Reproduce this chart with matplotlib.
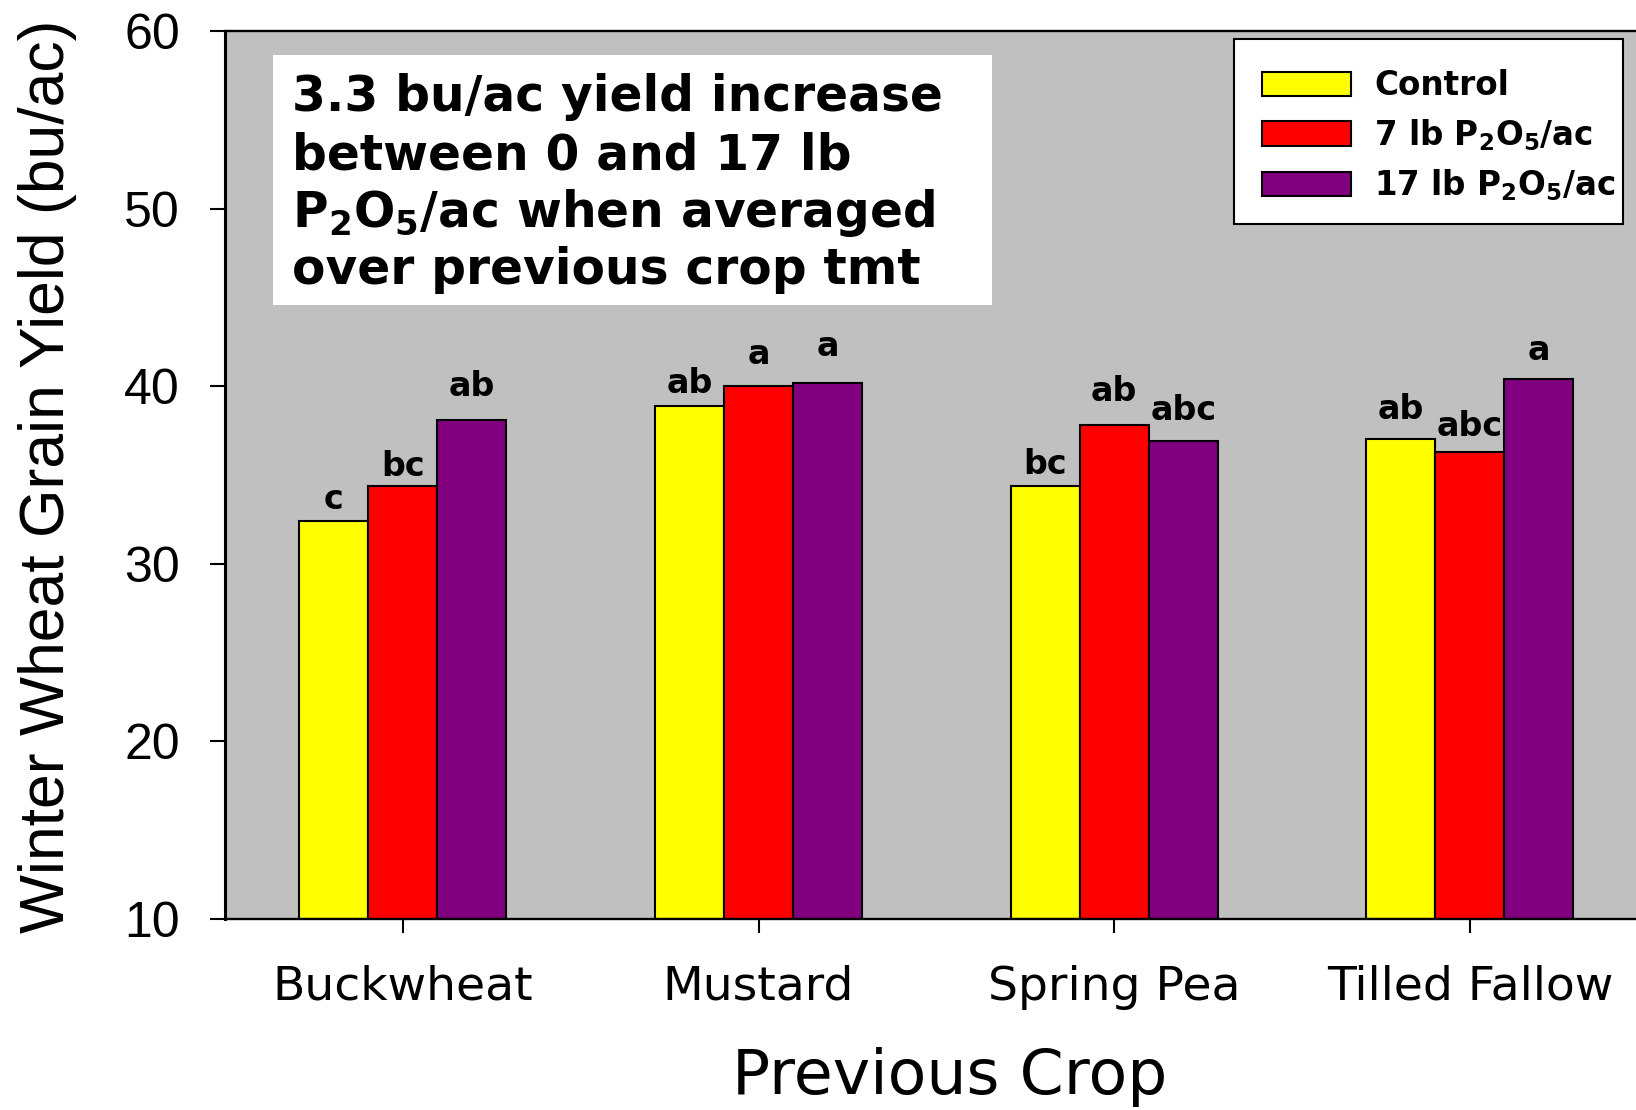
import numpy as np
import matplotlib
matplotlib.use('Agg')
import matplotlib.pyplot as plt
from matplotlib.patches import Rectangle

plt.rcParams['font.family'] = ['DejaVu Sans']
plt.rcParams['mathtext.fontset'] = 'dejavusans'

# data
crops = ['Buckwheat', 'Mustard', 'Spring Pea', 'Tilled Fallow']
control = [32.4, 38.9, 34.4, 37.0]
p7 = [34.4, 40.0, 37.8, 36.3]
p17 = [38.1, 40.2, 36.9, 40.4]

# mean separation letters and their height above the bar (bu/ac)
let_control = ['c', 'ab', 'bc', 'ab']
let_p7 = ['bc', 'a', 'ab', 'abc']
let_p17 = ['ab', 'a', 'abc', 'a']
off_control = [0.66, 0.73, 0.68, 1.13]
off_p7 = [0.56, 1.24, 1.35, 0.90]
off_p17 = [1.35, 1.52, 1.18, 1.05]

labels = ['Control', r'7 lb P$_\mathbf{2}$O$_\mathbf{5}$/ac',
          r'17 lb P$_\mathbf{2}$O$_\mathbf{5}$/ac']
colors = ['#ffff00', '#ff0000', '#800080']

note = ['3.3 bu/ac yield increase',
        'between 0 and 17 lb',
        r'P$_\mathbf{2}$O$_\mathbf{5}$/ac when averaged',
        'over previous crop tmt']

W, H = 1636, 1110
fig = plt.figure(figsize=(W / 100, H / 100), dpi=100)
ax = fig.add_axes([225 / W, 1 - 919 / H, (W - 225) / W, 888 / H])
ax.set_facecolor('#c0c0c0')

x = np.arange(len(crops))
bw = 0.194
series = [control, p7, p17]
letters = [let_control, let_p7, let_p17]
offs = [off_control, off_p7, off_p17]
for k in range(3):
    xs = x + (k - 1) * bw
    ax.bar(xs, np.array(series[k]) - 10, bw, bottom=10, color=colors[k],
           edgecolor='black', linewidth=1.5, label=labels[k], zorder=2)
    for i in range(len(crops)):
        ax.text(xs[i], series[k][i] + offs[k][i], letters[k][i],
                ha='center', va='baseline', fontsize=24, fontweight='bold')

ax.set_xlim(-0.5, 3.467)
ax.set_ylim(10, 60)
ax.set_yticks([10, 20, 30, 40, 50, 60])
ax.set_xticks(x)
ax.set_xticklabels(crops, fontsize=34)
for t in ax.get_yticklabels():
    t.set_fontfamily('Liberation Sans')
    t.set_fontsize(36)
ax.tick_params(axis='x', direction='out', length=10, width=1.5, pad=23)
ax.tick_params(axis='y', direction='out', length=10.5, width=1.5, pad=22)

ax.spines['right'].set_visible(False)
ax.spines['left'].set_linewidth(2.2)
ax.spines['bottom'].set_linewidth(1.7)
ax.spines['top'].set_linewidth(1.7)

ax.set_xlabel('Previous Crop', fontsize=45.5)
ax.xaxis.set_label_coords((950 - 225) / 1411, (919 - 1047) / 888)

fig.text(48 / W, 1 - 476.5 / H, 'Winter Wheat Grain Yield (bu/ac)',
         rotation=90, ha='center', va='center', fontsize=45,
         family='Liberation Sans')

# white note box
box = Rectangle((273 / W, 1 - 305 / H), (992 - 273) / W, 250 / H,
                transform=fig.transFigure, facecolor='white',
                edgecolor='none', zorder=3, clip_on=False)
ax.add_patch(box)
for j, line in enumerate(note):
    fig.text(292 / W, 1 - (111.3 + j * 57.7) / H, line, fontsize=35,
             fontweight='bold', ha='left', va='baseline', zorder=4)

# legend frame drawn separately, entries placed inside it
frame = Rectangle((1234 / W, 1 - 224.3 / H), (1623.3 - 1234) / W, 185.3 / H,
                  transform=fig.transFigure, facecolor='white',
                  edgecolor='black', linewidth=1.5, zorder=4.5, clip_on=False)
ax.add_patch(frame)
leg = ax.legend(loc='upper left', bbox_to_anchor=(1261.7 / W, 1 - 69.2 / H),
                bbox_transform=fig.transFigure, borderaxespad=0,
                frameon=False, prop={'size': 23.5, 'weight': 'bold'},
                handlelength=2.74, handleheight=0.77, handletextpad=0.7,
                labelspacing=0.45, borderpad=0)
leg.set_zorder(6)

fig.savefig('out.png', dpi=100)
